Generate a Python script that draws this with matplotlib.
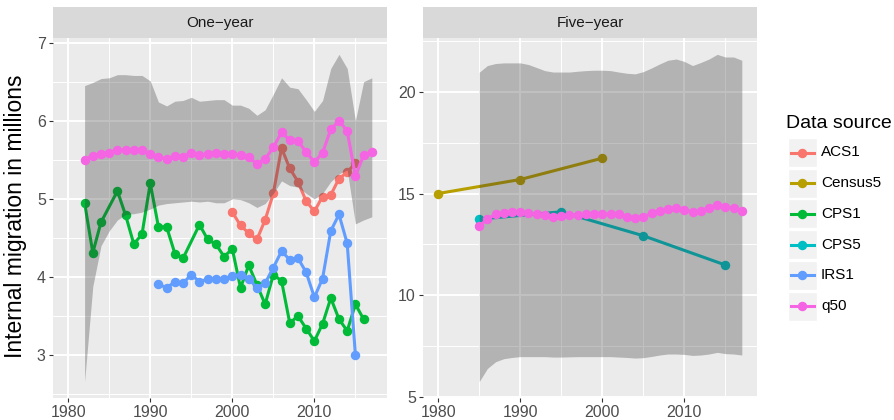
"""Internal migration estimates by data source, one-year and five-year panels."""

import matplotlib
matplotlib.use("Agg")
import matplotlib.pyplot as plt
from matplotlib.lines import Line2D
from matplotlib.patches import Rectangle

plt.rcParams["font.family"] = ["Liberation Sans", "DejaVu Sans"]

# ---- one-year series ------------------------------------------------------
q50_one_years = [1982, 1983, 1984, 1985, 1986, 1987, 1988, 1989, 1990, 1991,
                 1992, 1993, 1994, 1995, 1996, 1997, 1998, 1999, 2000, 2001,
                 2002, 2003, 2004, 2005, 2006, 2007, 2008, 2009, 2010, 2011,
                 2012, 2013, 2014, 2015, 2016, 2017]
q50_one = [5.50, 5.55, 5.58, 5.59, 5.62, 5.63, 5.62, 5.62, 5.57, 5.54,
           5.51, 5.55, 5.54, 5.59, 5.56, 5.58, 5.59, 5.58, 5.58, 5.56,
           5.53, 5.45, 5.51, 5.66, 5.85, 5.75, 5.74, 5.60, 5.47, 5.59,
           5.89, 6.00, 5.87, 5.29, 5.56, 5.60]
upper_one = [6.45, 6.49, 6.54, 6.55, 6.59, 6.59, 6.58, 6.58, 6.51, 6.24,
             6.19, 6.25, 6.26, 6.30, 6.25, 6.26, 6.27, 6.27, 6.20, 6.20,
             6.16, 6.07, 6.14, 6.34, 6.55, 6.43, 6.41, 6.27, 6.12, 6.26,
             6.67, 6.85, 6.67, 6.00, 6.50, 6.55]
lower_one = [2.66, 3.88, 4.40, 4.59, 4.73, 4.80, 4.81, 4.83, 4.87, 4.92,
             4.94, 4.95, 4.96, 4.97, 4.96, 4.97, 4.95, 4.95, 5.00, 4.99,
             4.95, 4.89, 4.94, 5.07, 5.23, 5.17, 5.15, 5.07, 5.00, 5.07,
             5.22, 5.32, 5.37, 4.68, 4.73, 4.77]

acs1_years = [2000, 2001, 2002, 2003, 2004, 2005, 2006, 2007, 2008, 2009,
              2010, 2011, 2012, 2013, 2014, 2015]
acs1 = [4.83, 4.66, 4.56, 4.48, 4.73, 5.07, 5.65, 5.39, 5.22, 4.97,
        4.84, 5.03, 5.05, 5.26, 5.34, 5.46]

cps1_years = [1982, 1983, 1984, 1986, 1987, 1988, 1989, 1990, 1991, 1992,
              1993, 1994, 1996, 1997, 1998, 1999, 2000, 2001, 2002, 2003,
              2004, 2005, 2006, 2007, 2008, 2009, 2010, 2011, 2012, 2013,
              2014, 2015, 2016]
cps1 = [4.95, 4.31, 4.70, 5.10, 4.79, 4.42, 4.55, 5.20, 4.64, 4.64,
        4.30, 4.24, 4.67, 4.48, 4.42, 4.26, 4.36, 3.86, 4.15, 3.90,
        3.65, 4.03, 3.95, 3.41, 3.50, 3.34, 3.18, 3.40, 3.73, 3.46,
        3.31, 3.65, 3.46]

irs1_years = [1991, 1992, 1993, 1994, 1995, 1996, 1997, 1998, 1999, 2000,
              2001, 2002, 2003, 2004, 2005, 2006, 2007, 2008, 2009, 2010,
              2011, 2012, 2013, 2014, 2015]
irs1 = [3.91, 3.86, 3.94, 3.92, 4.03, 3.94, 3.97, 3.98, 3.98, 4.01,
        4.03, 3.98, 3.86, 3.92, 4.12, 4.33, 4.22, 4.24, 4.06, 3.74,
        3.98, 4.59, 4.80, 4.43, 3.00]

# ---- five-year series -----------------------------------------------------
q50_five_years = [1985, 1986, 1987, 1988, 1989, 1990, 1991, 1992, 1993, 1994,
                  1995, 1996, 1997, 1998, 1999, 2000, 2001, 2002, 2003, 2004,
                  2005, 2006, 2007, 2008, 2009, 2010, 2011, 2012, 2013, 2014,
                  2015, 2016, 2017]
q50_five = [13.39, 13.75, 13.97, 14.02, 14.08, 14.08, 14.02, 13.97, 13.92, 13.85,
            13.89, 13.93, 13.95, 13.97, 14.00, 14.00, 13.97, 13.97, 13.85, 13.80,
            13.85, 14.02, 14.13, 14.25, 14.30, 14.21, 14.08, 14.16, 14.30, 14.44,
            14.33, 14.28, 14.15]
upper_five = [20.97, 21.30, 21.40, 21.43, 21.43, 21.43, 21.35, 21.20, 21.05, 20.98,
              20.98, 20.98, 21.02, 21.05, 21.07, 21.07, 21.05, 20.98, 20.92, 20.89,
              21.00, 21.18, 21.38, 21.56, 21.62, 21.50, 21.30, 21.45, 21.62, 21.85,
              21.72, 21.72, 21.56]
lower_five = [5.74, 6.39, 6.72, 6.87, 6.93, 6.97, 6.97, 6.97, 6.97, 6.95,
              6.95, 6.96, 6.97, 6.97, 6.97, 6.97, 6.97, 6.95, 6.93, 6.90,
              6.92, 6.98, 7.05, 7.10, 7.10, 7.08, 7.03, 7.05, 7.10, 7.18,
              7.12, 7.10, 7.05]

census5_years = [1980, 1990, 2000]
census5 = [15.00, 15.69, 16.74]

cps5_years = [1985, 1995, 2005, 2015]
cps5 = [13.74, 14.10, 12.92, 11.48]

sources = ["ACS1", "Census5", "CPS1", "CPS5", "IRS1", "q50"]
colors = {
    "ACS1": "#F8766D",
    "Census5": "#B79F00",
    "CPS1": "#00BA38",
    "CPS5": "#00BFC4",
    "IRS1": "#619CFF",
    "q50": "#F564E3",
}

W, H = 895, 420
LW = 2.2
MS = 5.8


def fx(px):
    return px / W


def fy(py):
    return 1 - py / H


def expand(lo, hi, frac=0.05):
    w = hi - lo
    return lo - frac * w, hi + frac * w


def style_panel(ax, yticks, yminor, xlim, ylim):
    ax.set_facecolor("#EBEBEB")
    for s in ax.spines.values():
        s.set_visible(False)
    ax.set_xlim(*xlim)
    ax.set_ylim(*ylim)
    ax.set_xticks([1980, 1990, 2000, 2010])
    ax.set_xticks([1985, 1995, 2005, 2015], minor=True)
    ax.set_yticks(yticks)
    ax.set_yticks(yminor, minor=True)
    ax.grid(which="major", color="white", linewidth=1.4, zorder=0)
    ax.grid(which="minor", color="white", linewidth=0.7, zorder=0)
    ax.set_axisbelow(True)
    ax.tick_params(which="major", length=3.2, width=0.8, color="#333333",
                   labelsize=11.5, labelcolor="#4D4D4D", pad=2)
    ax.tick_params(which="minor", length=0)


def add_strip(x0, x1, label):
    sax = fig.add_axes([fx(x0), fy(38), fx(x1 - x0), 31 / H])
    sax.set_facecolor("#D9D9D9")
    sax.set_xticks([])
    sax.set_yticks([])
    for s in sax.spines.values():
        s.set_visible(False)
    sax.text(0.5, 0.48, label, ha="center", va="center", fontsize=11,
             color="#1A1A1A", transform=sax.transAxes)


def draw_series(ax, x, y, name, z):
    ax.plot(x, y, color=colors[name], linewidth=LW, marker="o",
            markersize=MS, zorder=z, solid_joinstyle="round")


fig = plt.figure(figsize=(W / 100, H / 100), dpi=100)

xlim = expand(1980, 2017)

# One-year panel
axL = fig.add_axes([fx(53), fy(398), fx(334), 360 / H])
style_panel(axL, [3, 4, 5, 6, 7], [2.5, 3.5, 4.5, 5.5, 6.5], xlim,
            expand(min(lower_one), max(upper_one)))
draw_series(axL, acs1_years, acs1, "ACS1", 2)
draw_series(axL, cps1_years, cps1, "CPS1", 2.1)
draw_series(axL, irs1_years, irs1, "IRS1", 2.2)
axL.fill_between(q50_one_years, lower_one, upper_one, color="#333333",
                 alpha=0.3, linewidth=0, zorder=3)
draw_series(axL, q50_one_years, q50_one, "q50", 4)
fig.text(fx(16), fy(216), "Internal migration in millions", fontsize=16.5,
         rotation=90, ha="center", va="center", color="black")

# Five-year panel
axR = fig.add_axes([fx(423), fy(398), fx(334), 360 / H])
style_panel(axR, [5, 10, 15, 20], [7.5, 12.5, 17.5, 22.5], xlim,
            expand(min(lower_five), max(upper_five)))
draw_series(axR, census5_years, census5, "Census5", 2)
draw_series(axR, cps5_years, cps5, "CPS5", 2.1)
axR.fill_between(q50_five_years, lower_five, upper_five, color="#333333",
                 alpha=0.3, linewidth=0, zorder=3)
draw_series(axR, q50_five_years, q50_five, "q50", 4)

add_strip(53, 387, "One\u2212year")
add_strip(423, 757, "Five\u2212year")

# Legend, drawn as keyed boxes to the right of the panels
fig.text(fx(786), fy(124), "Data source", fontsize=14, ha="left",
         va="center", color="black")
key_x0, key_w, key_h, key_step, key_top = 788, 29, 29, 30.7, 138
for i, name in enumerate(sources):
    cy = key_top + i * key_step + key_h / 2
    fig.patches.append(Rectangle((fx(key_x0), fy(cy + key_h / 2)),
                                 key_w / W, key_h / H, transform=fig.transFigure,
                                 facecolor="#F2F2F2", edgecolor="white",
                                 linewidth=1))
    fig.lines.append(Line2D([fx(key_x0 + 3), fx(key_x0 + key_w - 3)],
                            [fy(cy), fy(cy)], transform=fig.transFigure,
                            color=colors[name], linewidth=LW))
    fig.lines.append(Line2D([fx(key_x0 + key_w / 2)], [fy(cy)],
                            transform=fig.transFigure, color=colors[name],
                            marker="o", markersize=MS, linestyle="none"))
    fig.text(fx(821), fy(cy), name, fontsize=11, ha="left", va="center",
             color="black")

fig.savefig("out.png", dpi=100)
